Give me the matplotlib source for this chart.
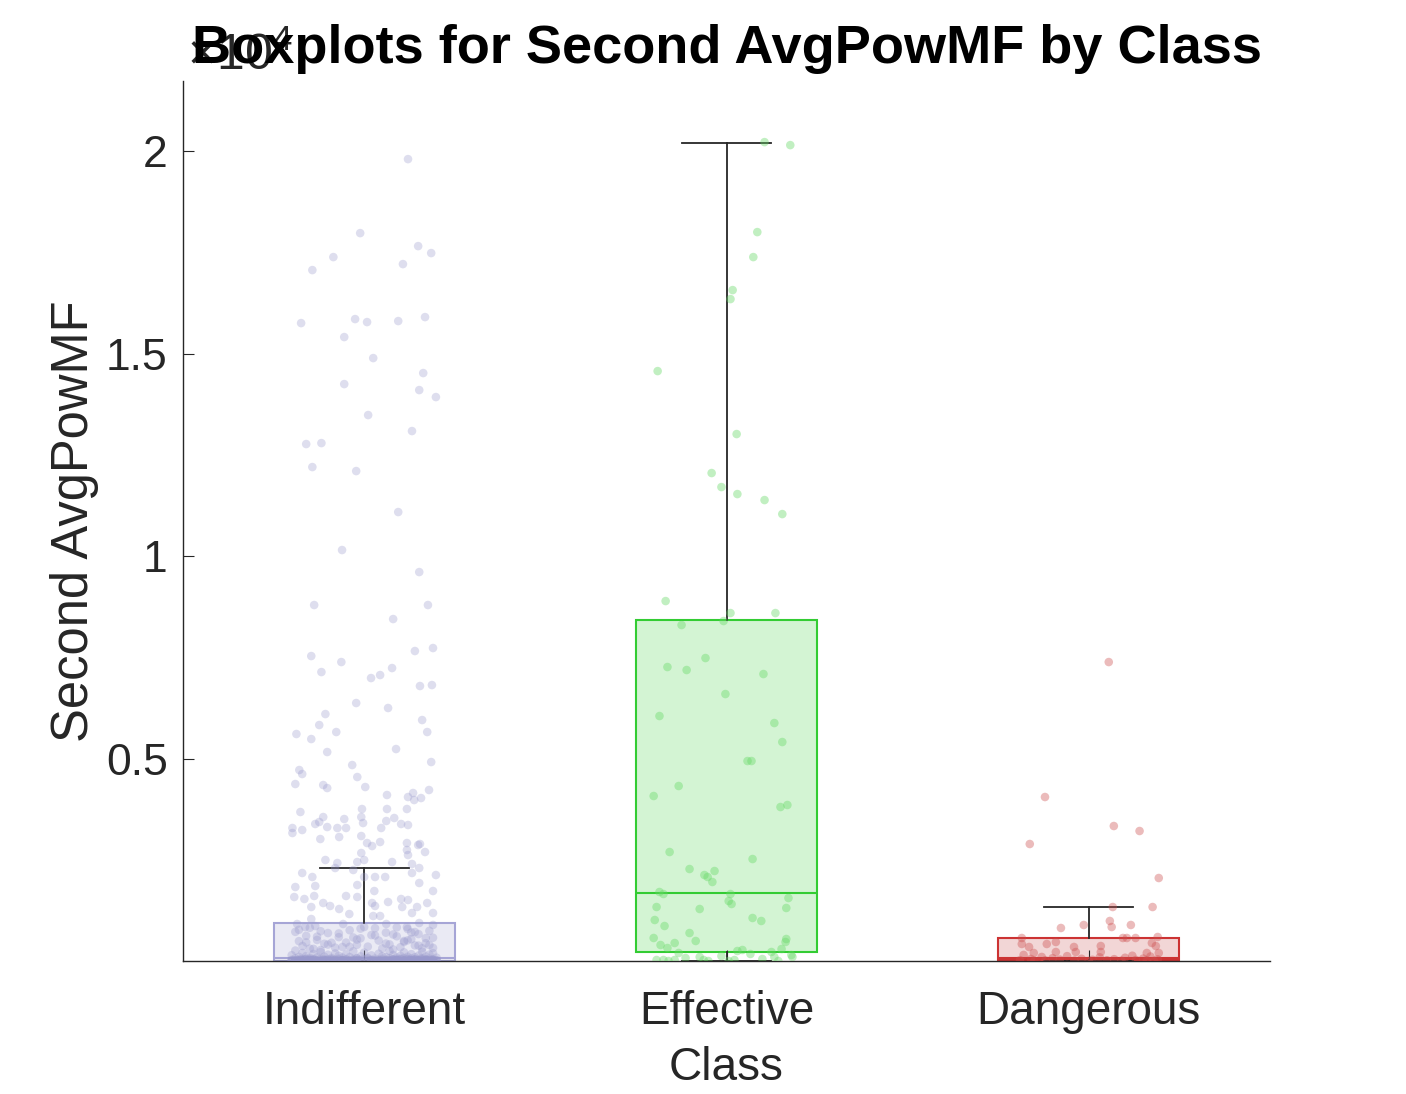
import matplotlib
matplotlib.use('Agg')
import matplotlib.pyplot as plt
from matplotlib.ticker import FixedLocator

plt.rcParams['font.family'] = ['Liberation Sans', 'DejaVu Sans']
plt.rcParams['mathtext.fontset'] = 'custom'
plt.rcParams['mathtext.rm'] = 'Liberation Sans'
plt.rcParams['mathtext.it'] = 'Liberation Sans:italic'

# ---------------- data ----------------
categories = ['Indifferent', 'Effective', 'Dangerous']
positions = [1, 2, 3]

# box statistics (values)
q1 = [5, 222, 25]
medians = [85, 1679, 70]
q3 = [938, 8420, 568]
whisker_low = [0, 0, 0]
whisker_high = [2296, 20200, 1333]

# jittered points: Indifferent
ind_values_upper = [
    19801, 17974, 17653, 17481, 17382, 17209, 17061, 15752, 15851, 15777,
    15802, 15900, 15407, 14888, 14518, 14246, 14098, 13925, 13481, 13086,
    12765, 12789, 12197, 12098, 11086, 10148, 9604, 8790, 8790, 8444,
    7654, 7728, 7530, 7382, 7135, 7234, 6987, 7061, 6790, 6814,
    6370, 6247, 6098, 5827, 5605, 5481, 5654, 5950, 5654, 5160,
    5234, 4913, 4716, 4617, 4839, 4543, 4370, 4345, 4271, 4296,
    4099, 4148, 4049, 3975, 4024, 4222, 3679, 3753, 3753, 3753,
    3555, 3383, 3432, 3506, 3555, 3531, 3407, 3457, 3383, 3358,
    3284, 3160, 3234, 3308, 3284, 3284, 3284, 3012, 3062, 3086,
    2913, 2839, 2938, 2913, 2741, 2864, 2889, 2691, 2617, 2667,
    2494, 2420, 2444, 2494, 2444, 2395, 2296, 2296, 2247, 2074,
    2074, 2074, 2173, 2074, 2123, 2173, 1827, 1852, 1876, 1926,
    1728, 1728, 1580, 1531, 1605, 1605, 1580, 1457, 1531, 1506,
    1432, 1432, 1358, 1333, 1284, 1333, 1333, 1432, 1185, 1358,
    1160, 1111, 1111, 1185, 1037, 914, 914, 914, 938, 889,
    839, 864, 839, 839]
ind_offsets_upper = [
    0.121, -0.011, 0.149, 0.185, -0.085, 0.107, -0.143, -0.174, -0.025, 0.008,
    0.094, 0.168, -0.055, 0.025, 0.163, -0.055, 0.152, 0.198, 0.011, 0.132,
    -0.160, -0.118, -0.143, -0.022, 0.094, -0.061, 0.152, -0.138, 0.176, 0.080,
    0.140, 0.190, -0.146, -0.063, -0.118, 0.077, 0.019, 0.044, 0.154, 0.187,
    -0.022, 0.066, -0.107, -0.124, -0.187, -0.146, -0.077, 0.160, 0.174, -0.102,
    0.088, 0.185, -0.179, -0.171, -0.033, -0.019, -0.190, -0.113, -0.102, 0.003,
    0.063, 0.135, 0.121, 0.138, 0.157, 0.179, -0.176, -0.006, 0.063, 0.118,
    -0.113, -0.135, -0.124, -0.055, -0.008, 0.083, -0.003, 0.061, 0.102, 0.121,
    -0.198, -0.198, -0.171, -0.102, -0.074, -0.050, 0.047, -0.121, -0.069, -0.008,
    0.008, 0.022, 0.044, 0.118, 0.118, 0.149, 0.154, 0.168, 0.121, -0.008,
    -0.107, -0.074, -0.019, 0.000, 0.077, 0.132, 0.152, -0.080, -0.030, 0.030,
    0.000, 0.058, -0.171, -0.143, 0.198, 0.132, -0.190, -0.135, -0.019, 0.152,
    0.028, 0.190, -0.193, -0.165, -0.138, -0.050, -0.019, 0.066, 0.102, 0.121,
    0.022, -0.113, -0.094, -0.146, -0.069, 0.105, 0.146, 0.174, 0.132, 0.030,
    -0.041, 0.025, 0.044, 0.190, -0.146, -0.185, -0.058, 0.061, 0.152, 0.190,
    -0.163, -0.135, 0.000, 0.118]
ind_values_mid = [820, 790, 760, 745, 720, 700, 690, 665, 640, 620,
                  610, 590, 575, 560, 540, 520, 505, 490, 470, 455,
                  440, 425, 410, 400, 385, 370, 355, 340, 330, 315,
                  300, 810, 735, 655, 580, 510, 450, 395, 345, 310,
                  830, 770, 715, 680, 630, 600, 565, 530, 495, 460,
                  430, 405, 380, 350, 325, 305, 285, 270, 800, 705]
ind_offsets_mid = [-0.15, 0.12, -0.04, 0.18, -0.19, 0.06, -0.10, 0.15, 0.02, -0.16,
                   0.09, -0.07, 0.19, -0.01, 0.13, -0.13, 0.04, -0.18, 0.11, -0.05,
                   0.17, -0.11, 0.07, -0.02, 0.14, -0.17, 0.01, 0.10, -0.08, 0.16,
                   -0.14, 0.03, -0.12, 0.08, -0.03, 0.12, -0.09, 0.18, -0.06, 0.05,
                   0.09, -0.18, 0.14, -0.07, 0.03, -0.13, 0.17, -0.02, 0.11, -0.16,
                   0.06, -0.10, 0.15, -0.04, 0.19, -0.15, 0.08, -0.12, -0.01, 0.13]
ind_values_low = [
    258, 246, 238, 229, 221, 214, 206, 199, 193, 186,
    180, 174, 169, 163, 158, 153, 148, 143, 139, 134,
    130, 126, 122, 118, 114, 111, 107, 104, 101, 98,
    95, 92, 89, 86, 84, 81, 79, 76, 74, 72,
    70, 68, 66, 64, 62, 60, 58, 56, 55, 53,
    51, 50, 48, 47, 45, 44, 42, 41, 40, 38,
    37, 36, 35, 34, 33, 32, 31, 30, 29, 28,
    27, 26, 25, 24, 23, 22, 21, 20, 19, 18,
    17, 16, 15, 14, 13, 12, 12, 11, 11, 10,
    10, 9, 9, 8, 8, 7, 7, 6, 6, 5,
    5, 5, 4, 4, 4, 3, 3, 3, 2, 2,
    2, 2, 1, 1, 1, 1, 1, 1, 1, 1,
    52, 46, 39, 33, 28, 24, 20, 17, 14, 12,
    10, 8, 7, 6, 5, 4, 3, 2, 2, 1,
    49, 43, 36, 31, 26, 22, 18, 15, 13, 11,
    9, 8, 6, 5, 4, 3, 3, 2, 1, 1,
    57, 41, 34, 27, 21, 16, 12, 9, 7, 5,
    4, 3, 2, 2, 1, 1, 1, 1, 1, 1,
    63, 44, 30, 23, 19, 14, 11, 8, 6, 4,
    3, 2, 2, 1, 1, 1, 1, 1, 1, 1,
    38, 29, 25, 17, 13, 10, 7, 5, 4, 3,
    2, 2, 1, 1, 1, 1, 1, 1, 1, 1,
    47, 35, 26, 20, 15, 11, 9, 6, 4, 3,
    2, 1, 1, 1, 1, 1, 1, 1, 1, 1]
ind_offsets_low = [
    -0.19, 0.07, -0.03, 0.16, -0.12, 0.11, 0.00, -0.17, 0.19, -0.08,
    0.04, -0.14, 0.13, -0.05, 0.18, -0.10, 0.08, -0.20, 0.02, 0.15,
    -0.07, 0.10, -0.16, 0.05, -0.01, 0.17, -0.11, 0.12, -0.18, 0.06,
    -0.04, 0.14, -0.13, 0.09, -0.06, 0.20, -0.15, 0.01, 0.11, -0.09,
    0.16, -0.02, -0.19, 0.07, 0.13, -0.12, 0.03, -0.07, 0.18, -0.16,
    0.10, -0.03, 0.05, -0.14, 0.15, -0.10, 0.00, 0.19, -0.18, 0.08,
    -0.05, 0.12, -0.08, 0.17, -0.15, 0.04, -0.01, 0.14, -0.20, 0.09,
    -0.11, 0.02, 0.16, -0.06, 0.11, -0.17, 0.06, -0.13, 0.20, -0.02,
    0.07, -0.09, 0.13, -0.19, 0.03, -0.04, 0.18, -0.12, 0.10, -0.16,
    0.01, 0.15, -0.07, 0.05, -0.18, 0.12, -0.10, 0.08, -0.01, 0.17,
    -0.14, 0.04, -0.06, 0.19, -0.11, 0.09, -0.03, 0.14, -0.17, 0.06,
    -0.08, 0.16, -0.13, 0.02, 0.11, -0.20, 0.07, -0.05, 0.13, -0.15,
    0.12, -0.09, 0.17, -0.14, 0.06, -0.02, 0.19, -0.18, 0.09, -0.06,
    0.15, -0.12, 0.03, -0.16, 0.11, -0.01, 0.18, -0.08, 0.04, -0.19,
    -0.17, 0.10, -0.05, 0.14, -0.11, 0.02, -0.15, 0.16, -0.03, 0.08,
    -0.13, 0.20, -0.07, 0.12, -0.18, 0.05, -0.10, 0.13, -0.04, 0.18,
    0.01, -0.16, 0.09, -0.09, 0.17, -0.14, 0.07, -0.20, 0.15, -0.06,
    0.11, -0.12, 0.04, -0.17, 0.19, -0.02, 0.14, -0.08, 0.06, -0.13,
    -0.02, 0.16, -0.11, 0.08, -0.19, 0.13, -0.06, 0.18, -0.14, 0.03,
    0.10, -0.17, 0.05, -0.09, 0.20, -0.04, 0.12, -0.15, 0.07, -0.12,
    0.14, -0.07, 0.19, -0.16, 0.02, -0.10, 0.17, -0.03, 0.09, -0.18,
    -0.05, 0.11, -0.13, 0.06, -0.01, 0.15, -0.20, 0.04, 0.18, -0.08,
    0.08, -0.15, 0.13, -0.03, 0.17, -0.11, 0.01, -0.18, 0.10, -0.06,
    -0.14, 0.05, -0.09, 0.19, -0.12, 0.12, -0.04, 0.15, -0.17, 0.03]

# jittered points: Effective
eff_values = [
    20221, 20147, 17999, 17382, 16567, 16345, 14567, 13012, 12049, 11703,
    11530, 11382, 11036, 8888, 8592, 8592, 8395, 8296, 7259, 7185,
    7481, 7086, 6592, 6049, 5876, 5407, 4938, 4938, 4321, 4074,
    3802, 3852, 2691, 2518, 2271, 2123, 2074, 2222, 1951, 1704,
    1654, 1654, 1481, 1407, 1555, 1333, 1284, 1309, 1012, 864,
    1062, 988, 691, 494, 568, 395, 444, 321, 198, 543,
    469, 296, 222, 272, 247, 173, 123, 99, 74, 25,
    25, 0, 25, 25, 0, 0, 25, 49, 99, 0,
    99, 148]
eff_offsets = [
    0.105, 0.176, 0.085, 0.074, 0.017, 0.011, -0.190, 0.028, -0.041, -0.014,
    0.030, 0.105, 0.154, -0.168, 0.011, 0.135, -0.008, -0.124, -0.163, -0.110,
    -0.058, 0.102, -0.003, -0.185, 0.132, 0.154, 0.058, 0.069, -0.132, -0.201,
    0.149, 0.168, -0.157, 0.072, -0.102, -0.061, -0.052, -0.033, -0.039, -0.185,
    -0.174, 0.011, 0.006, 0.014, 0.171, -0.193, -0.074, 0.165, -0.198, -0.171,
    0.072, 0.096, -0.102, -0.085, -0.201, -0.182, -0.143, -0.163, -0.132, 0.165,
    0.163, 0.152, 0.124, 0.044, 0.030, 0.066, -0.014, -0.074, -0.113, -0.193,
    -0.174, -0.160, -0.143, -0.063, -0.050, 0.006, 0.022, 0.099, 0.132, 0.143,
    0.182, 0.179]

# jittered points: Dangerous
dan_values = [
    7382, 4049, 3333, 3210, 2889, 2049, 1333, 1333, 815, 889,
    988, 839, 889, 568, 420, 420, 469, 568, 568, 568,
    593, 444, 370, 346, 346, 222, 370, 222, 222, 198,
    198, 198,
    150, 130, 120, 110, 100, 90, 80, 70, 60, 55,
    50, 45, 40, 35, 30, 25, 20, 18, 15, 12,
    10, 8, 5, 3, 1]
dan_offsets = [
    0.055, -0.121, 0.069, 0.140, -0.163, 0.193, 0.066, 0.176, -0.077, -0.014,
    0.058, 0.063, 0.116, -0.185, -0.185, -0.116, -0.091, 0.094, 0.105, 0.129,
    0.190, 0.174, 0.185, -0.165, -0.041, -0.036, 0.033, 0.033, -0.091, 0.193,
    0.160, -0.152,
    -0.18, 0.12, -0.06, 0.17, -0.13, 0.03, 0.10, -0.10, 0.15, -0.02,
    -0.16, 0.07, 0.19, -0.08, 0.01, 0.13, -0.19, 0.05, -0.12, 0.16,
    -0.04, 0.09, -0.15, 0.18, 0.00]

y_ticks = [5000, 10000, 15000, 20000]
y_tick_labels = ['0.5', '1', '1.5', '2']

# ---------------- style ----------------
box_edge = ['#a6a5d6', '#33cc33', '#cc3333']
box_face = ['#9999cc', '#26c826', '#bf3333']
point_color = ['#9999cc', '#66d966', '#cc4d4d']
point_alpha = [0.32, 0.40, 0.38]
dark = '#262626'

fig = plt.figure(figsize=(14.06, 10.94), dpi=100)
ax = fig.add_axes([183 / 1406, 1 - 961 / 1094, 1087 / 1406, 880 / 1094])

stats = []
for i in range(3):
    stats.append(dict(med=medians[i], q1=q1[i], q3=q3[i],
                      whislo=whisker_low[i], whishi=whisker_high[i], fliers=[]))

bp = ax.bxp(stats, positions=positions, widths=0.5, capwidths=0.245,
            patch_artist=True, showfliers=False,
            whiskerprops=dict(color=dark, linewidth=1.3),
            capprops=dict(color=dark, linewidth=1.3),
            medianprops=dict(linewidth=1.5))
for i, b in enumerate(bp['boxes']):
    b.set_facecolor(matplotlib.colors.to_rgba(box_face[i], 0.2))
    b.set_edgecolor(box_edge[i])
    b.set_linewidth(1.5)
    b.set_zorder(1)
for i, m in enumerate(bp['medians']):
    m.set_color(box_edge[i])
    m.set_zorder(1.5)

all_values = [ind_values_upper + ind_values_mid + ind_values_low, eff_values, dan_values]
all_offsets = [ind_offsets_upper + ind_offsets_mid + ind_offsets_low, eff_offsets, dan_offsets]
for i in range(3):
    xs = [positions[i] + o for o in all_offsets[i]]
    ax.scatter(xs, all_values[i], s=38, color=point_color[i], alpha=point_alpha[i],
               edgecolors='none', zorder=3)

ax.set_xlim(0.5, 3.5)
ax.set_ylim(0, 21730)
ax.set_xticks(positions)
ax.set_xticklabels(categories)
ax.yaxis.set_major_locator(FixedLocator(y_ticks))
ax.set_yticklabels(y_tick_labels)

for s in ['top', 'right']:
    ax.spines[s].set_visible(False)
for s in ['left', 'bottom']:
    ax.spines[s].set_color(dark)
    ax.spines[s].set_linewidth(1.0)

ax.tick_params(axis='both', direction='in', length=7.9, width=0.8, color=dark,
               labelcolor=dark)
ax.tick_params(axis='y', labelsize=32, pad=11)
ax.tick_params(axis='x', labelsize=33, pad=21)

ax.set_xlabel('Class', fontsize=33, color=dark, va='center')
ax.xaxis.set_label_coords(0.5, (961 - 1068) / 880)
ax.set_ylabel('Second AvgPowMF', fontsize=36.5, color=dark, va='center')
ax.yaxis.set_label_coords((75 - 183) / 1087, 0.5)

ax.text(0.004, (961 - 70) / 880, r'$\times\mathregular{10^{4}}$', transform=ax.transAxes,
        fontsize=36, color=dark, ha='left', va='baseline', zorder=1)
t = ax.set_title('Boxplots for Second AvgPowMF by Class', fontsize=39,
                 fontweight='bold', color='black', pad=13)
t.set_zorder(10)

fig.savefig('out.png', dpi=100)
